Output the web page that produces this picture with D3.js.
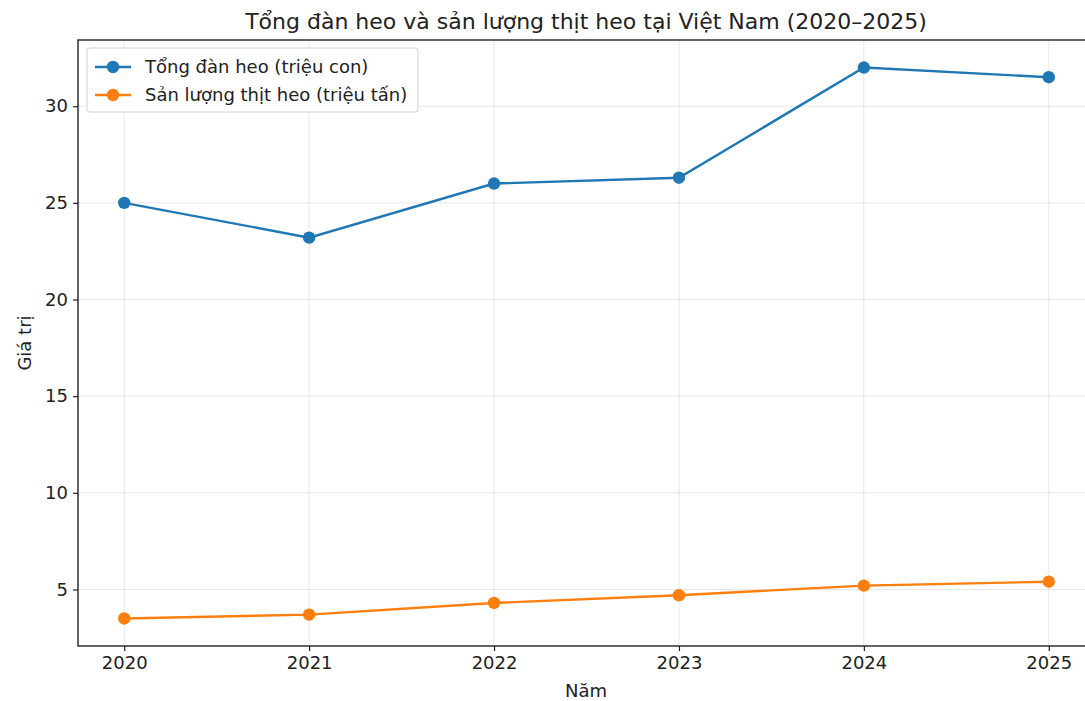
<!DOCTYPE html>
<html>
<head>
<meta charset="utf-8">
<script src="https://cdn.jsdelivr.net/npm/d3@7"></script>
<style>
  body { margin: 0; background: #fff; }
  svg { font-family: "DejaVu Sans", sans-serif; }
</style>
</head>
<body>
<svg id="chart" width="1085" height="701"></svg>
<script>
var years = [2020, 2021, 2022, 2023, 2024, 2025];
var tongDanHeo = [25, 23.2, 26, 26.3, 32, 31.5];
var sanLuongThit = [3.5, 3.7, 4.3, 4.7, 5.2, 5.4];
var yTicks = [5, 10, 15, 20, 25, 30];
var seriesNames = ["Tổng đàn heo (triệu con)", "Sản lượng thịt heo (triệu tấn)"];
var colors = ["#1f77b4", "#ff7f0e"];

var svg = d3.select("#chart");
var pLeft = 78, pTop = 40, pRight = 1095, pBottom = 646;

// matplotlib style 5% margins
var xPad = (d3.max(years) - d3.min(years)) * 0.05;
var allVals = tongDanHeo.concat(sanLuongThit);
var yMin = d3.min(allVals), yMax = d3.max(allVals);
var yPad = (yMax - yMin) * 0.05;

var x = d3.scaleLinear()
    .domain([d3.min(years) - xPad, d3.max(years) + xPad])
    .range([pLeft, pRight]);
var y = d3.scaleLinear()
    .domain([yMin - yPad, yMax + yPad])
    .range([pBottom, pTop]);

// grid
var grid = svg.append("g");
grid.selectAll("line.gx")
    .data(years)
    .enter().append("line")
    .attr("x1", function (d) { return x(d); })
    .attr("x2", function (d) { return x(d); })
    .attr("y1", pTop)
    .attr("y2", pBottom)
    .style("stroke", "#b0b0b0").style("stroke-opacity", 0.3).style("stroke-width", 1);
grid.selectAll("line.gy")
    .data(yTicks)
    .enter().append("line")
    .attr("x1", pLeft)
    .attr("x2", pRight)
    .attr("y1", function (d) { return y(d); })
    .attr("y2", function (d) { return y(d); })
    .style("stroke", "#b0b0b0").style("stroke-opacity", 0.3).style("stroke-width", 1);

// axes
var xAxis = svg.append("g")
    .attr("transform", "translate(0," + pBottom + ")")
    .call(d3.axisBottom(x).tickValues(years).tickFormat(d3.format("d")).tickSizeOuter(0).tickSize(5).tickPadding(5));
var yAxis = svg.append("g")
    .attr("transform", "translate(" + pLeft + ",0)")
    .call(d3.axisLeft(y).tickValues(yTicks).tickSizeOuter(0).tickSize(5).tickPadding(5));
[xAxis, yAxis].forEach(function (a) {
    a.select(".domain").remove();
    a.selectAll("text").style("font-size", "18px").style("fill", "#222").style("font-family", "DejaVu Sans");
    a.selectAll("line").style("stroke", "#222").style("stroke-width", 1.2);
});

// frame
svg.append("rect")
    .attr("x", pLeft).attr("y", pTop)
    .attr("width", pRight - pLeft).attr("height", pBottom - pTop)
    .style("fill", "none").style("stroke", "#222").style("stroke-width", 1.4);

// series
var series = [tongDanHeo, sanLuongThit];
var line = d3.line()
    .x(function (d, i) { return x(years[i]); })
    .y(function (d) { return y(d); });

series.forEach(function (vals, k) {
    var g = svg.append("g");
    g.append("path")
        .datum(vals)
        .attr("d", line)
        .style("fill", "none")
        .style("stroke", colors[k])
        .style("stroke-width", 2.4);
    g.selectAll("circle")
        .data(vals)
        .enter().append("circle")
        .attr("cx", function (d, i) { return x(years[i]); })
        .attr("cy", function (d) { return y(d); })
        .attr("r", 6.2)
        .style("fill", colors[k]);
});

// legend
var legend = svg.append("g").attr("transform", "translate(87,48)");
legend.append("rect")
    .attr("width", 331).attr("height", 64).attr("rx", 3)
    .style("fill", "#fff").style("fill-opacity", 0.8)
    .style("stroke", "#d0d0d0").style("stroke-width", 1);
seriesNames.forEach(function (name, k) {
    var row = legend.append("g").attr("transform", "translate(0," + (19 + k * 28) + ")");
    row.append("line")
        .attr("x1", 8).attr("x2", 44)
        .style("stroke", colors[k]).style("stroke-width", 2.4);
    row.append("circle").attr("cx", 26).attr("r", 6.2).style("fill", colors[k]);
    row.append("text")
        .attr("x", 58).attr("dy", "0.35em")
        .style("font-size", "18px").style("fill", "#222")
        .text(name);
});

// title and labels
svg.append("text")
    .attr("x", 586).attr("y", 29)
    .attr("text-anchor", "middle")
    .style("font-size", "22px").style("fill", "#222")
    .text("Tổng đàn heo và sản lượng thịt heo tại Việt Nam (2020–2025)");
svg.append("text")
    .attr("x", 586).attr("y", 697)
    .attr("text-anchor", "middle")
    .style("font-size", "18px").style("fill", "#222")
    .text("Năm");
svg.append("text")
    .attr("transform", "translate(31," + ((pTop + pBottom) / 2) + ") rotate(-90)")
    .attr("text-anchor", "middle")
    .style("font-size", "18px").style("fill", "#222")
    .text("Giá trị");
</script>
</body>
</html>
